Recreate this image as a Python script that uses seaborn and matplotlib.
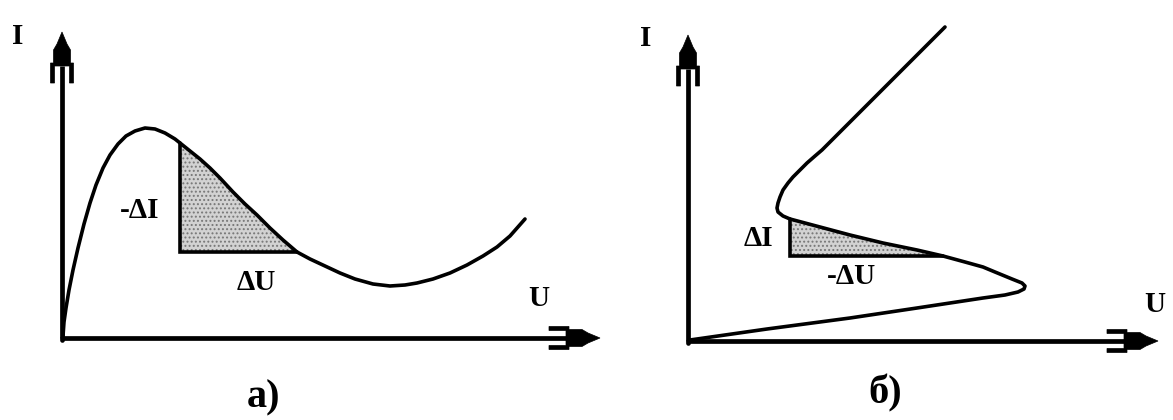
import numpy as np
import matplotlib
matplotlib.use("Agg")
import matplotlib.pyplot as plt
import seaborn as sns

# N-shaped current-voltage characteristic (panel a): voltage U, current I
u_a = [1, 2, 4, 7, 11, 16, 22, 28, 34, 41, 48, 56, 64, 73, 83, 93, 103, 113,
       118, 128, 138, 148, 158, 171, 183, 195, 208, 221, 235, 248, 263, 278,
       293, 311, 328, 343, 355, 371, 388, 405, 421, 435, 448, 463]
i_a = [2, 16, 30, 48, 68, 90, 114, 135, 153, 170, 183, 194, 202, 207, 210, 209,
       205, 199, 195, 187, 179, 170, 160, 146, 134, 123, 110, 98, 86, 79, 72,
       65, 59, 54, 52, 53, 55, 59, 65, 73, 82, 91, 102, 119]

# S-shaped current-voltage characteristic (panel b)
u_b = [2, 79, 162, 229, 295, 317, 330, 336, 337, 334, 324, 307, 295, 277, 255,
       229, 195, 162, 132, 102, 95, 90, 89, 90, 92, 95, 100, 105, 112, 119, 127,
       134, 257]
i_b = [1, 12, 23, 33, 43, 46, 49, 52, 55, 58, 62, 69, 74, 79, 85, 91, 98, 106,
       114, 122, 125, 129, 133, 138, 144, 151, 158, 164, 171, 178, 185, 191, 314]

# negative differential resistance segments: (U start, U end, I base)
seg_a = (118, 235, 86)
seg_b = (102, 255, 85)

# axis extents (U max, I max) for each panel
axis_a = (538, 306)
axis_b = (470, 306)

labels_a = {"I": "I", "U": "U", "dI": "-\u0394I", "dU": "\u0394U", "panel": "a)"}
labels_b = {"I": "I", "U": "U", "dI": "\u0394I", "dU": "-\u0394U", "panel": "\u0431)"}

sns.set_style("white")
plt.rcParams["font.family"] = ["Liberation Serif", "DejaVu Serif"]
plt.rcParams["hatch.linewidth"] = 0.9

W, H = 1173, 420
fig = plt.figure(figsize=(W / 100, H / 100), dpi=100)
fig.patch.set_facecolor("white")

CURVE_LW = 2.6
AXIS_LW = 3.4
LABEL_FS = 21
PANEL_FS = 29


def pixel_axes(left_px, width_px, origin_x, origin_y):
    """Axes whose data units are pixels measured from the diagram origin."""
    ax = fig.add_axes([left_px / W, 0, width_px / W, 1])
    ax.set_xlim(left_px - origin_x, left_px + width_px - origin_x)
    ax.set_ylim(origin_y - H, origin_y)
    ax.set_axis_off()
    return ax


def axis_arrow(ax, tip, direction):
    d = np.asarray(direction, float)
    n = np.array([-d[1], d[0]])
    tip = np.asarray(tip, float)
    head = [(0, 0), (6, 2.5), (12, 5), (18, 8.5), (31, 8.5), (31, 11.5),
            (51, 11.5), (51, 7.5), (34, 7.5), (34, -7.5), (51, -7.5),
            (51, -11.5), (31, -11.5), (31, -8.5), (18, -8.5), (12, -5),
            (6, -2.5)]
    pts = [tip - b * d + s * n for b, s in head]
    ax.add_patch(plt.Polygon(pts, closed=True, facecolor="black",
                             edgecolor="black", linewidth=0.5, zorder=5,
                             clip_on=False))
    end = tip - 34 * d
    ax.plot([0, end[0]], [0, end[1]], color="black", lw=AXIS_LW,
            solid_capstyle="butt", zorder=4, clip_on=False)


def draw_panel(ax, u, i, seg, axes_len, labels, pos):
    u = np.asarray(u, float)
    i = np.asarray(i, float)
    # axes with arrows
    axis_arrow(ax, (0, axes_len[1]), (0, 1))
    axis_arrow(ax, (axes_len[0], 0), (1, 0))
    ax.plot([0, 0], [-2, 0], color="black", lw=AXIS_LW)

    # shaded triangle under the falling branch (contiguous part of the curve)
    u0, u1, ib = seg
    k0 = int(np.where(u == u0)[0][0])
    k1 = int(np.where(u == u1)[0][0])
    lo, hi = min(k0, k1), max(k0, k1)
    su, si = u[lo:hi + 1], i[lo:hi + 1]
    order = np.argsort(su)
    su, si = su[order], si[order]
    ax.fill_between(su, ib, si, facecolor="#d2d2d2", hatch="....",
                    edgecolor="#777777", linewidth=0, zorder=1)
    ax.plot([u0, u0, u1], [i[k0], ib, ib], color="black", lw=CURVE_LW,
            solid_joinstyle="miter", zorder=3)

    # characteristic curve
    sns.lineplot(x=u, y=i, sort=False, estimator=None, color="black",
                 linewidth=CURVE_LW, ax=ax, zorder=3)

    txt = dict(fontweight="bold", color="black", ha="center", va="center",
               clip_on=False)
    ax.text(*pos["I"], labels["I"], fontsize=LABEL_FS, **txt)
    ax.text(*pos["U"], labels["U"], fontsize=LABEL_FS, **txt)
    ax.text(*pos["dI"], labels["dI"], fontsize=LABEL_FS, **txt)
    ax.text(*pos["dU"], labels["dU"], fontsize=LABEL_FS, **txt)
    ax.text(*pos["panel"], labels["panel"], fontsize=PANEL_FS, **txt)


ax_a = pixel_axes(0, 586, 62, 338)
ax_b = pixel_axes(586, 587, 688, 341)

draw_panel(ax_a, u_a, i_a, seg_a, axis_a, labels_a,
           {"I": (-44, 301), "U": (477, 39), "dI": (78, 128),
            "dU": (194, 56), "panel": (201, -60)})
draw_panel(ax_b, u_b, i_b, seg_b, axis_b, labels_b,
           {"I": (-42, 303), "U": (467, 36), "dI": (70, 103),
            "dU": (163, 65), "panel": (197, -52)})

fig.savefig("out.png", dpi=100, facecolor="white")
